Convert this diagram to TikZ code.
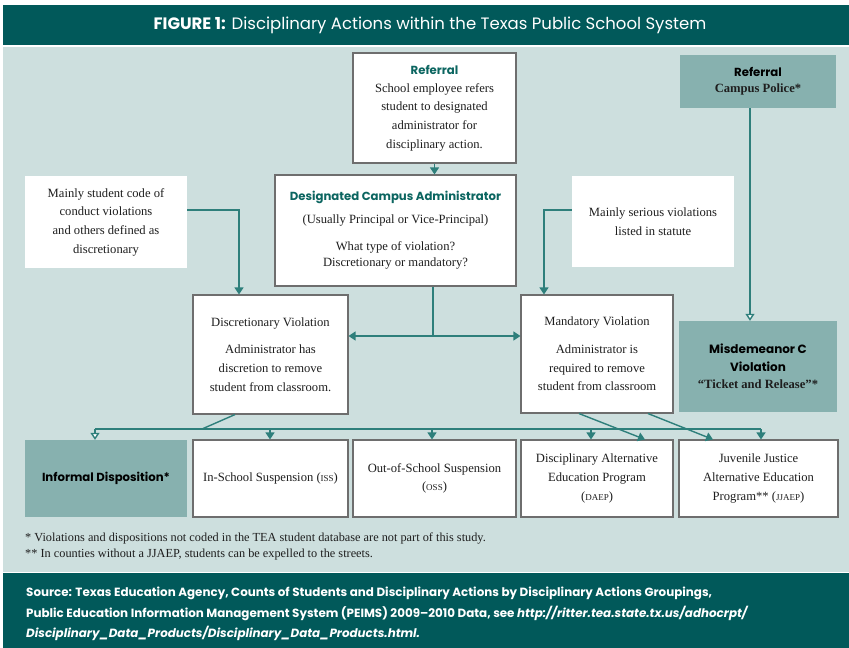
\documentclass[tikz,border=0pt]{standalone}
\usepackage{fontspec}
\setmainfont{Liberation Serif}
\setsansfont{Poppins}
\usetikzlibrary{arrows.meta}
\definecolor{darkteal}{HTML}{01595A}
\definecolor{paleteal}{HTML}{CDDFDE}
\definecolor{midteal}{HTML}{87B1AF}
\definecolor{lineteal}{HTML}{2E7F7B}
\definecolor{headteal}{HTML}{0B6560}
\definecolor{boxgray}{HTML}{6E6E6E}
\definecolor{inkgray}{HTML}{1E1E1E}
\newcommand{\hd}{\sffamily\bfseries\fontsize{11.7}{14}\selectfont}
\newcommand{\hdbig}{\sffamily\bfseries\fontsize{12}{14}\selectfont\color{black}}
\begin{document}
\begin{tikzpicture}[x = 1pt,
                    y = -1pt,
                    color = {inkgray}]
% style of boxes and links
\tikzset{box/.style={draw=boxgray,line width=1.1pt,fill=white,align=center,inner sep=0pt,
                     font=\fontsize{12.6}{18.7}\selectfont},
         notebox/.style={fill=white,align=center,inner sep=0pt,font=\fontsize{12.6}{18.7}\selectfont},
         tealbox/.style={fill=midteal,align=center,inner sep=0pt,font=\fontsize{12.6}{18.5}\selectfont},
         plain/.style={draw=lineteal,line width=1.4pt},
         link/.style={plain,-{Triangle[width=9pt,length=7pt]}},
         openlink/.style={plain,-{Triangle[width=9pt,length=7pt,fill=white]}}}
\useasboundingbox (0,0) rectangle (849,648);

%bands
\fill[white] (0,0) rectangle (849,648);
\fill[darkteal] (3,5) rectangle (849,45);
\fill[paleteal] (3,47) rectangle (849,572);
\fill[darkteal] (3,573) rectangle (849,648);

%title
\node[text=white,font=\sffamily\fontsize{16.5}{18}\selectfont] (title) at (430,25)
 {\textbf{FIGURE 1:} Disciplinary Actions within the Texas Public School System};

%top row
\node[box,minimum width=163pt,minimum height=110pt] (ref) at (434.5,108)
 {{\hd\color{headteal}Referral}\\[-1pt]
  School employee refers\\
  student to designated\\
  administrator for\\
  disciplinary action.};
\node[tealbox,minimum width=156pt,minimum height=53pt] (police) at (758,81.5)
 {{\hd\color{black}Referral}\\[-2pt]
  \textbf{Campus Police*}};

%administrator and notes
\node[box,minimum width=241pt,minimum height=111pt] (dca) at (395.5,230.5)
 {{\hd\color{headteal}Designated Campus Administrator}\\[4pt]
  (Usually Principal or Vice-Principal)\\[8pt]
  What type of violation?\\[-2pt]
  Discretionary or mandatory?};
\node[notebox,minimum width=162pt,minimum height=92pt] (noteL) at (106,222)
 {Mainly student code of\\
  conduct violations\\
  and others defined as\\
  discretionary};
\node[notebox,minimum width=162pt,minimum height=91pt] (noteR) at (653,221.5)
 {Mainly serious violations\\
  listed in statute};

%violations
\node[box,minimum width=155pt,minimum height=119pt] (disc) at (270.5,354.5)
 {Discretionary Violation\\[9pt]
  Administrator has\\
  discretion to remove\\
  student from classroom.};
\node[box,minimum width=152pt,minimum height=118pt] (mand) at (597,354)
 {Mandatory Violation\\[9pt]
  Administrator is\\
  required to remove\\
  student from classroom};
\node[tealbox,minimum width=158pt,minimum height=91pt] (misd) at (758,366.5)
 {{\hdbig Misdemeanor C}\\[-1pt]
  {\hdbig Violation}\\[-1pt]
  \textbf{``Ticket and Release''*}};

%dispositions
\node[tealbox,minimum width=162pt,minimum height=77pt] (inf) at (106,478.5)
 {{\hd\color{black}Informal Disposition*}};
\node[box,minimum width=155pt,minimum height=77pt] (iss) at (270.5,478.5)
 {In-School Suspension ({\small ISS})};
\node[box,minimum width=163pt,minimum height=77pt] (oss) at (434.5,478.5)
 {Out-of-School Suspension\\({\small OSS})};
\node[box,minimum width=152pt,minimum height=77pt] (daep) at (597,478.5)
 {Disciplinary Alternative\\Education Program\\({\small DAEP})};
\node[box,minimum width=159pt,minimum height=77pt] (jjaep) at (758.5,478.5)
 {Juvenile Justice\\Alternative Education\\Program** ({\small JJAEP})};

%links
\draw[link] (ref.south) -- (ref.south |- dca.north);
\coordinate (split) at (433,336);
\draw[plain] (dca.south -| split) -- (split);
\draw[link] (split) -- (split -| disc.east);
\draw[link] (split) -- (split -| mand.west);
\coordinate (lbend) at (239,210);
\draw[link] (lbend -| noteL.east) -- (lbend) -- (lbend |- disc.north);
\coordinate (rbend) at (544,210);
\draw[link] (rbend -| noteR.west) -- (rbend) -- (rbend |- mand.north);
\coordinate (pdrop) at (750,0);
\draw[openlink] (pdrop |- police.south) -- (pdrop |- misd.north);

%bus to dispositions
\coordinate (busL) at (95,429);
\coordinate (busR) at (761,429);
\coordinate (busJ) at (202,429);
\draw[plain] (busL) -- (busR);
\draw[plain] ([xshift=-35.5pt]disc.south) -- (busJ);
\draw[openlink] (busL) -- (busL |- inf.north);
\foreach \n/\x in {iss/270,oss/432,daep/591,jjaep/761}
  {\coordinate (d\n) at (\x,429);
   \draw[link] (d\n) -- (d\n |- \n.north);}
\draw[link] ([xshift=-18pt]mand.south) -- ([xshift=48pt]daep.north);
\draw[link] ([xshift=51pt]mand.south) -- ([xshift=-45.5pt]jjaep.north);

%footnotes
\node[anchor=west,inner sep=0pt,font=\fontsize{12.3}{12}\selectfont] (fn1) at (25,538)
 {* Violations and dispositions not coded in the TEA student database are not part of this study.};
\node[anchor=west,inner sep=0pt,font=\fontsize{12.3}{12}\selectfont] (fn2) at (25,555)
 {** In counties without a JJAEP, students can be expelled to the streets.};

%source
\node[anchor=north west,align=left,inner sep=0pt,text=white,
      font=\sffamily\bfseries\fontsize{11.9}{20.5}\selectfont] (src) at (26,587)
 {Source: Texas Education Agency, Counts of Students and Disciplinary Actions by Disciplinary Actions Groupings,\\
  Public Education Information Management System (PEIMS) 2009--2010 Data, see \textit{http://ritter.tea.state.tx.us/adhocrpt/}\\
  \textit{Disciplinary\_Data\_Products/Disciplinary\_Data\_Products.html.}};
\end{tikzpicture}
\end{document}
